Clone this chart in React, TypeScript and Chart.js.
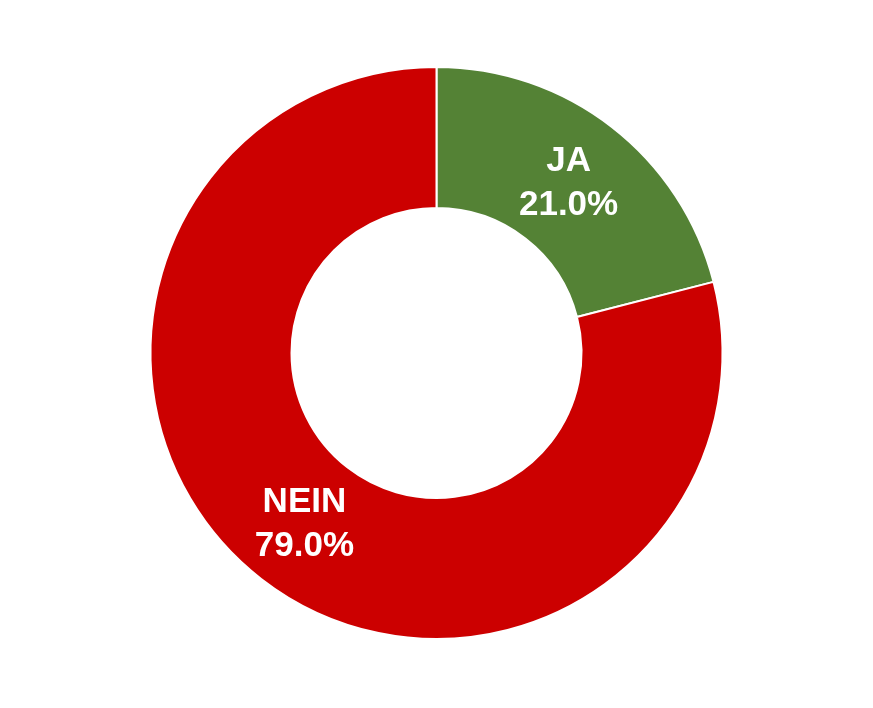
import React, { useEffect, useRef } from "react";
import { Chart, registerables } from "chart.js";

Chart.register(...registerables);

const categories = ["JA", "NEIN"];
const values = [21.0, 79.0];
const colors = ["#548235", "#CC0000"];

const labelPlugin = {
  id: "sliceLabels",
  afterDatasetsDraw(chart: any) {
    const ctx = chart.ctx;
    const meta = chart.getDatasetMeta(0);
    const data = chart.data.datasets[0].data as number[];
    const total = data.reduce((a, b) => a + b, 0);
    ctx.save();
    ctx.fillStyle = "#FFFFFF";
    ctx.font = "bold 35px 'Liberation Sans', Arial, sans-serif";
    ctx.textAlign = "center";
    ctx.textBaseline = "middle";
    meta.data.forEach((arc: any, i: number) => {
      const p = arc.tooltipPosition();
      const pct = ((data[i] / total) * 100).toFixed(1) + "%";
      ctx.fillText(String(chart.data.labels[i]), p.x, p.y - 21);
      ctx.fillText(pct, p.x, p.y + 23);
    });
    ctx.restore();
  },
};

export default function App() {
  const ref = useRef<HTMLCanvasElement>(null);
  useEffect(() => {
    if (!ref.current) return;
    const chart = new Chart(ref.current, {
      type: "doughnut",
      data: {
        labels: categories,
        datasets: [
          {
            data: values,
            backgroundColor: colors,
            borderColor: "#FFFFFF",
            borderWidth: 2,
          },
        ],
      },
      options: {
        animation: false,
        responsive: false,
        radius: 286,
        cutout: "50.7%",
        layout: { padding: { top: 0, bottom: 2 } },
        plugins: {
          legend: { display: false },
          tooltip: { enabled: false },
        },
      },
      plugins: [labelPlugin],
    });
    return () => chart.destroy();
  }, []);
  return (
    <div style={{ position: "fixed", left: 0, top: 0, width: 873, height: 708, background: "#fff" }}>
      <canvas ref={ref} width={873} height={708} style={{ width: 873, height: 708 }} />
    </div>
  );
}
